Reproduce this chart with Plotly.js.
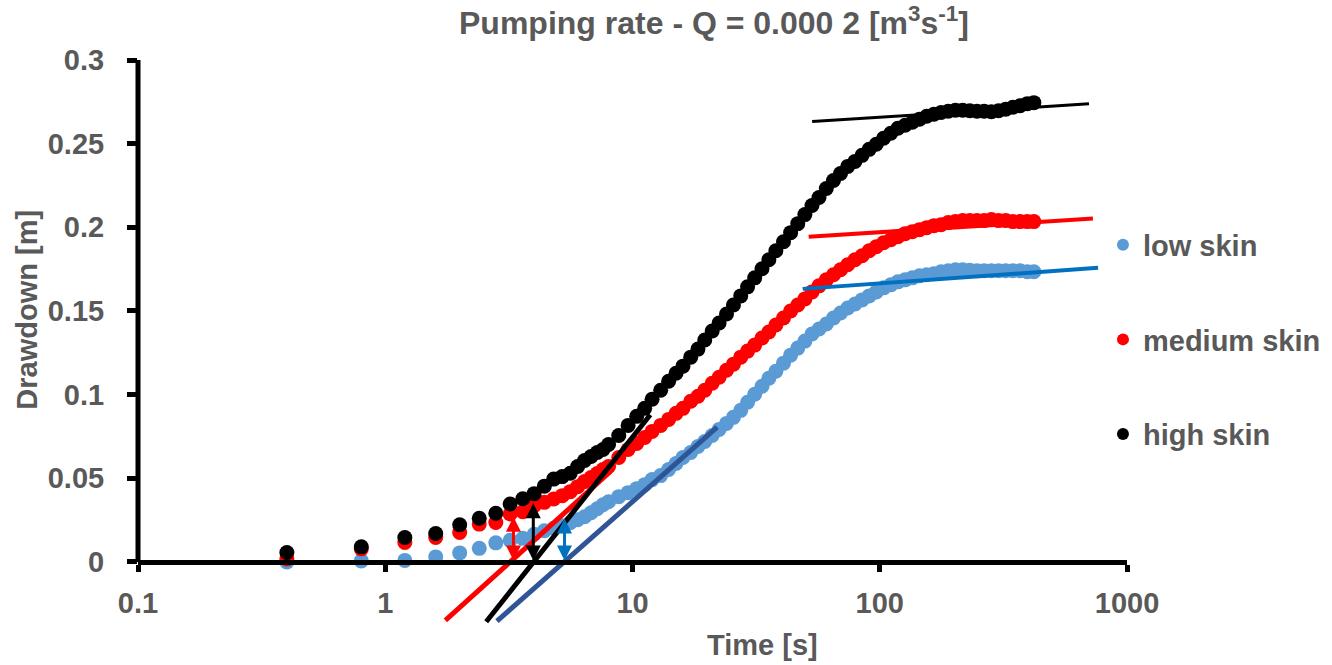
<!DOCTYPE html>
<html>
<head>
<meta charset="utf-8">
<script src="https://cdn.plot.ly/plotly-3.0.1.min.js"></script>
<style>
html,body{margin:0;padding:0;background:#ffffff;}
#chart{width:1332px;height:665px;}
</style>
</head>
<body>
<div id="chart"></div>
<script>
// ---------- DATA ----------
const timeS = [0.4, 0.8, 1.2, 1.6, 2.0, 2.4, 2.8, 3.2, 3.6, 4.0, 4.4, 4.8, 5.2, 5.6, 6.0, 6.4, 6.8, 7.2, 7.6, 8.0,
  8.8, 9.6, 10.4, 11.2, 12, 13, 14, 15, 16, 17.2, 18.4, 19.6, 21, 22.4, 24, 25.6, 27.4, 29.2, 31.2, 33.4,
  35.6, 38, 40.8, 43.6, 46.6, 49.8, 53.2, 56.8, 60.8, 65, 69.4, 74.2, 79.4, 84.8, 90.6, 96.8, 103.6, 110.8,
  118.4, 126.6, 135.4, 144.8, 154.8, 165.6, 177, 189.2, 202.4, 216.4, 231.4, 247.4, 264.4, 282.8, 302.4,
  323.2, 345.6, 369.6, 395.2, 420];

const lowSkin = [0.0000, 0.0006, 0.0009, 0.0030, 0.0054, 0.0081, 0.0114, 0.0129, 0.0141, 0.0165, 0.0186, 0.0201, 0.0216, 0.0234, 0.0252, 0.0270, 0.0294, 0.0318, 0.0342, 0.0360,
  0.0390, 0.0414, 0.0438, 0.0462, 0.0492, 0.0516, 0.0552, 0.0588, 0.0624, 0.0654,
  0.0690, 0.0720, 0.0756, 0.0792, 0.0828, 0.0864, 0.0906, 0.0954, 0.1002, 0.1050,
  0.1098, 0.1140, 0.1188, 0.1236, 0.1278, 0.1320, 0.1362, 0.1392, 0.1422, 0.1458,
  0.1488, 0.1518, 0.1542, 0.1566, 0.1590, 0.1614, 0.1638, 0.1656, 0.1674, 0.1686,
  0.1698, 0.1710, 0.1716, 0.1722, 0.1734, 0.1740, 0.1746, 0.1746, 0.1743, 0.1740,
  0.1740, 0.1740, 0.1740, 0.1740, 0.1740, 0.1740, 0.1734, 0.1734];

const mediumSkin = [0.0018, 0.0078, 0.0116, 0.0146, 0.0176, 0.0226, 0.0236, 0.0286, 0.0300, 0.0336, 0.0356, 0.0376, 0.0396, 0.0420, 0.0450, 0.0480, 0.0504, 0.0528, 0.0552, 0.0570,
  0.0624, 0.0672, 0.0708, 0.0744, 0.0780, 0.0816, 0.0852, 0.0888, 0.0918, 0.0960,
  0.0990, 0.1026, 0.1068, 0.1104, 0.1146, 0.1182, 0.1224, 0.1260, 0.1296, 0.1338,
  0.1374, 0.1416, 0.1458, 0.1500, 0.1536, 0.1572, 0.1614, 0.1650, 0.1686, 0.1716,
  0.1746, 0.1776, 0.1806, 0.1830, 0.1860, 0.1884, 0.1908, 0.1926, 0.1944, 0.1962,
  0.1974, 0.1986, 0.1998, 0.2010, 0.2016, 0.2028, 0.2034, 0.2040, 0.2040, 0.2040,
  0.2040, 0.2046, 0.2040, 0.2040, 0.2034, 0.2034, 0.2034, 0.2034];

const highSkin = [0.0056, 0.0090, 0.0146, 0.0170, 0.0222, 0.0261, 0.0291, 0.0346, 0.0378, 0.0408, 0.0453, 0.0495, 0.0510, 0.0530, 0.0570, 0.0606, 0.0630, 0.0654, 0.0672, 0.0702,
  0.0756, 0.0816, 0.0870, 0.0918, 0.0972, 0.1026, 0.1080, 0.1128, 0.1170, 0.1224,
  0.1272, 0.1326, 0.1380, 0.1428, 0.1482, 0.1536, 0.1590, 0.1644, 0.1698, 0.1752,
  0.1806, 0.1860, 0.1914, 0.1968, 0.2022, 0.2076, 0.2130, 0.2178, 0.2232, 0.2280,
  0.2322, 0.2364, 0.2394, 0.2430, 0.2466, 0.2496, 0.2532, 0.2562, 0.2592, 0.2610,
  0.2628, 0.2646, 0.2664, 0.2676, 0.2686, 0.2694, 0.2700, 0.2700, 0.2697, 0.2694,
  0.2694, 0.2691, 0.2697, 0.2706, 0.2718, 0.2727, 0.2739, 0.2745];

// straight-line fits (early-time and late-time)
const lowEarlyT = [2.83, 22.0];   const lowEarlyV = [-0.0354, 0.0806];
const medEarlyT = [1.75, 8.15];   const medEarlyV = [-0.0350, 0.0541];
const highEarlyT = [2.56, 11.8];  const highEarlyV = [-0.0358, 0.0880];
const lowLateT = [48.8, 764];     const lowLateV = [0.1632, 0.1758];
const medLateT = [51.6, 728];     const medLateV = [0.1944, 0.2052];
const highLateT = [53.3, 702];    const highLateV = [0.2632, 0.2738];

// skin-loss arrows: time and top value (from 0 drawdown)
const arrowNames = ["medium skin", "high skin", "low skin"];
const arrowT = [3.30, 3.97, 5.31];
const arrowTop = [0.027, 0.035, 0.026];

// ticks
const xTickVals = [0.1, 1, 10, 100, 1000];
const xTickText = ["0.1", "1", "10", "100", "1000"];
const yTickVals = [0, 0.05, 0.1, 0.15, 0.2, 0.25, 0.3];
const yTickText = ["0", "0.05", "0.1", "0.15", "0.2", "0.25", "0.3"];

// ---------- STYLE ----------
const FONT = "Liberation Sans, Arial, sans-serif";
const GREY = "#595959";
const cLow = "#5B9BD5", cMed = "#FF0000", cHigh = "#000000";
const cLowLineLate = "#0070C0", cLowLineEarly = "#2F5597";

function markerTrace(name, y, color, grp) {
  return {type: "scatter", mode: "markers", name: name, x: timeS, y: y,
    legendgroup: grp, cliponaxis: false,
    marker: {color: color, size: 15, line: {width: 0}}};
}
function lineTrace(t, v, color, w) {
  return {type: "scatter", mode: "lines", x: t, y: v, showlegend: false,
    hoverinfo: "skip", line: {color: color, width: w}};
}

const data = [
  markerTrace("low skin", lowSkin, cLow, "a"),
  markerTrace("medium skin", mediumSkin, cMed, "b"),
  markerTrace("high skin", highSkin, cHigh, "c"),
  lineTrace(lowEarlyT, lowEarlyV, cLowLineEarly, 5),
  lineTrace(medEarlyT, medEarlyV, cMed, 5),
  lineTrace(highEarlyT, highEarlyV, cHigh, 5),
  lineTrace(lowLateT, lowLateV, cLowLineLate, 4),
  lineTrace(medLateT, medLateV, cMed, 4),
  lineTrace(highLateT, highLateV, cHigh, 3)
];

const arrowColors = {"medium skin": cMed, "high skin": cHigh, "low skin": cLowLineLate};
const annotations = arrowNames.map((n, i) => ({
  x: Math.log10(arrowT[i]), y: arrowTop[i], xref: "x", yref: "y",
  ax: Math.log10(arrowT[i]), ay: 0, axref: "x", ayref: "y",
  text: "", showarrow: true, arrowhead: 2, startarrowhead: 2, arrowside: "end+start",
  arrowsize: 1, startarrowsize: 1, arrowwidth: 3, arrowcolor: arrowColors[n]
}));

annotations.push({
  text: "Drawdown [m]", xref: "paper", yref: "paper", x: -0.112, y: 0.5585,
  xanchor: "center", yanchor: "middle", textangle: -90, showarrow: false,
  font: {family: FONT, size: 29, color: GREY, weight: "bold"}
});
annotations.push({
  text: "Time [s]", xref: "paper", yref: "paper", x: 0.631, y: -0.036,
  xanchor: "center", yanchor: "middle", showarrow: false,
  font: {family: FONT, size: 29, color: GREY, weight: "bold"}
});

const layout = {
  width: 1332, height: 665,
  margin: {l: 138, r: 205, t: 60, b: 40, autoexpand: false},
  paper_bgcolor: "#ffffff", plot_bgcolor: "#ffffff",
  title: {
    text: "Pumping rate - Q = 0.000 2 [m<sup>3</sup>s<sup>-1</sup>]",
    font: {family: FONT, size: 32, color: GREY, weight: "bold"},
    xref: "container", yref: "container", x: 0.536, xanchor: "center",
    y: 0.965, yanchor: "middle"
  },
  xaxis: {
    type: "log", range: [-1, 3], anchor: "free", position: 0.1115,
    tickvals: xTickVals, ticktext: xTickText,
    showline: true, linecolor: "#000000", linewidth: 5,
    ticks: "outside", ticklen: 7, tickwidth: 5, tickcolor: "#000000",
    ticklabelstandoff: 6,
    showgrid: false, zeroline: false,
    tickfont: {family: FONT, size: 29, color: GREY, weight: "bold"}
  },
  yaxis: {
    range: [-0.0377, 0.3],
    tickvals: yTickVals, ticktext: yTickText,
    showline: false, ticks: "outside", ticklen: 10, tickwidth: 5, tickcolor: "#000000",
    ticklabelstandoff: 17,
    showgrid: false, zeroline: false,
    tickfont: {family: FONT, size: 29, color: GREY, weight: "bold"}
  },
  shapes: [{
    type: "line", xref: "paper", yref: "y", x0: 0, x1: 0, y0: 0, y1: 0.3,
    line: {color: "#000000", width: 5}, layer: "above"
  }],
  showlegend: true,
  legend: {
    x: 0.9757, xanchor: "left", y: 0.718, yanchor: "top",
    bgcolor: "rgba(0,0,0,0)", borderwidth: 0,
    traceorder: "grouped", tracegroupgap: 54,
    font: {family: FONT, size: 29, color: GREY, weight: "bold"},
    itemsizing: "constant"
  },
  annotations: annotations
};

Plotly.newPlot("chart", data, layout, {displayModeBar: false, staticPlot: true});
</script>
</body>
</html>
